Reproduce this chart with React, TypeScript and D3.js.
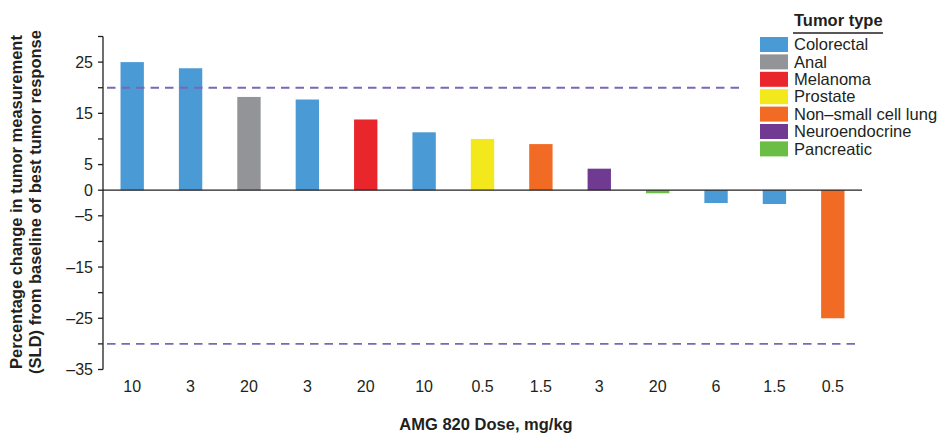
import React from "react";
import * as d3 from "d3";

const doses = ["10", "3", "20", "3", "20", "10", "0.5", "1.5", "3", "20", "6", "1.5", "0.5"];
const changes = [25, 23.8, 18.2, 17.7, 13.8, 11.3, 10.0, 9.0, 4.2, -0.6, -2.5, -2.7, -25];
const tumorTypes = ["Colorectal", "Colorectal", "Anal", "Colorectal", "Melanoma", "Colorectal", "Prostate", "Non\u2013small cell lung", "Neuroendocrine", "Pancreatic", "Colorectal", "Colorectal", "Non\u2013small cell lung"];
const legendTypes = ["Colorectal", "Anal", "Melanoma", "Prostate", "Non\u2013small cell lung", "Neuroendocrine", "Pancreatic"];
const legendColors = ["#4A9AD5", "#929497", "#E9262B", "#F3E81C", "#F26B24", "#703A93", "#6ABD45"];
const yTicks = [30, 25, 20, 15, 10, 5, 0, -5, -10, -15, -20, -25, -30, -35];
const yLabels = [25, 15, 5, 0, -5, -15, -25, -35];
const refLines = [20, -30];

const W = 939, H = 433;
const FONT = "'Liberation Sans', Arial, sans-serif";

export default function App() {
  const x = d3.scaleBand<number>().domain(d3.range(doses.length)).range([103, 862]).paddingInner(0.6).paddingOuter(0.3);
  const y = d3.scaleLinear().domain([-35, 30]).range([369.5, 36.5]);
  const color = d3.scaleOrdinal<string, string>().domain(legendTypes).range(legendColors);
  const axisX = 103;

  return (
    <svg width={W} height={H} style={{ position: "absolute", left: 0, top: 0, background: "#fff" }} fontFamily={FONT}>
      {changes.map((v, i) => (
        <rect key={i} x={x(i)} width={x.bandwidth()} y={y(Math.max(0, v))} height={Math.abs(y(v) - y(0))} fill={color(tumorTypes[i])} />
      ))}
      {refLines.map((r, i) => (
        <line key={r} x1={axisX + 4} x2={i === 0 ? 740 : 859} y1={y(r)} y2={y(r)} stroke="#7B67B6" strokeWidth={1.9} strokeDasharray="8.5,6" />
      ))}
      <line x1={axisX} x2={862} y1={y(0)} y2={y(0)} stroke="#231f20" strokeWidth={1.3} />
      <line x1={axisX} x2={axisX} y1={y(30)} y2={y(-35)} stroke="#231f20" strokeWidth={1.3} />
      {yTicks.map(t => (
        <line key={t} x1={axisX - 5} x2={axisX} y1={y(t)} y2={y(t)} stroke="#231f20" strokeWidth={1.3} />
      ))}
      {yLabels.map(t => (
        <text key={t} x={axisX - 10} y={y(t)} dy="0.35em" textAnchor="end" fontSize={16} fill="#231f20">
          {t < 0 ? "\u2013" + Math.abs(t) : String(t)}
        </text>
      ))}
      {doses.map((d, i) => (
        <text key={i} x={(x(i) as number) + x.bandwidth() / 2} y={392} textAnchor="middle" fontSize={16} fill="#231f20">{d}</text>
      ))}
      <text x={486} y={430} textAnchor="middle" fontSize={16.5} fontWeight="bold" fill="#231f20">AMG 820 Dose, mg/kg</text>
      <g transform="translate(0,202) rotate(-90)">
        <text x={0} y={22} textAnchor="middle" fontSize={16.5} fontWeight="bold" fill="#231f20">Percentage change in tumor measurement</text>
        <text x={0} y={41} textAnchor="middle" fontSize={16.5} fontWeight="bold" fill="#231f20">(SLD) from baseline of best tumor response</text>
      </g>
      <text x={794} y={26} fontSize={16.5} fontWeight="bold" fill="#231f20">Tumor type</text>
      <line x1={793} x2={883} y1={33} y2={33} stroke="#231f20" strokeWidth={1.3} />
      {legendTypes.map((t, i) => (
        <g key={t} transform={`translate(760,${37 + i * 17.4})`}>
          <rect x={0} y={0} width={28} height={15} fill={legendColors[i]} />
          <text x={34} y={7.5} dy="0.35em" fontSize={16.5} fill="#231f20">{t}</text>
        </g>
      ))}
    </svg>
  );
}
